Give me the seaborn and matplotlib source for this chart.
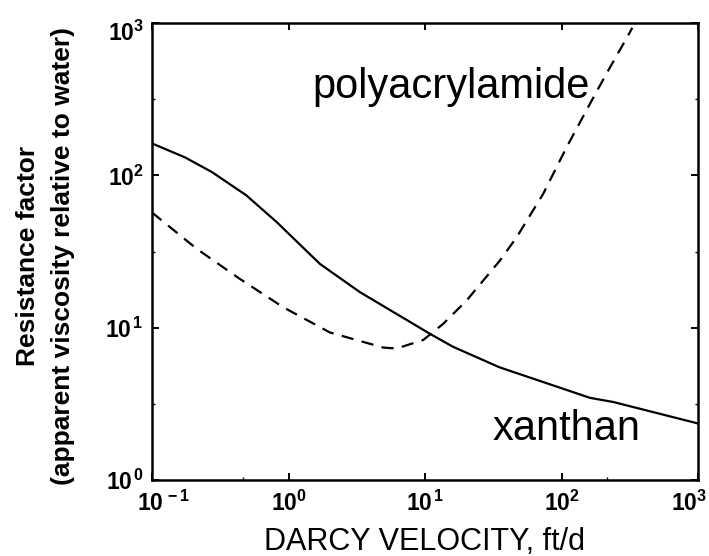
import matplotlib
matplotlib.use("Agg")
import matplotlib.pyplot as plt
import matplotlib.ticker as mticker
import matplotlib.transforms as mtransforms
import numpy as np
import pandas as pd
import seaborn as sns

# ---- data ----
xanthan_v = [0.1, 0.175, 0.275, 0.49, 0.82, 1.70, 3.34, 10.9, 16, 35, 162, 240, 1000]
xanthan_rf = [162, 131, 105, 74, 49.3, 26.2, 17.1, 9.1, 7.5, 5.5, 3.46, 3.25, 2.35]

pam_v = [0.1, 0.212, 0.44, 0.917, 2.01, 4.95, 6.2, 9.7, 13.6, 20.2, 35.4, 47, 73.6, 109, 162, 214, 309, 330]
pam_rf = [57, 33, 20.9, 13.6, 9.3, 7.4, 7.3, 8.3, 10.6, 15.1, 27.6, 39.3, 75.9, 153, 296, 467, 834, 930]

x_ticks = [0.1, 1, 10, 100, 1000]
x_ticklabels = [r'$\mathbf{10^{\,-1}}$', r'$\mathbf{10^{0}}$', r'$\mathbf{10^{\,1}}$',
                r'$\mathbf{10^{2}}$', r'$\mathbf{10^{3}}$']
y_ticks = [1, 10, 100, 1000]
y_ticklabels = [r'$\mathbf{10^{\,0}}$', r'$\mathbf{10^{\,1}}$', r'$\mathbf{10^{2}}$', r'$\mathbf{10^{3}}$']
x_minor = [10 ** (-1 / 3), 10 ** (7 / 3)]
y_minor = [10 ** 0.5, 10 ** 1.5, 10 ** 2.5]

series_labels = ["xanthan", "polyacrylamide"]

# ---- style ----
sns.set_style("white")
plt.rcParams['font.family'] = ['Liberation Sans', 'DejaVu Sans']
plt.rcParams['mathtext.fontset'] = 'custom'
plt.rcParams['mathtext.rm'] = 'Liberation Sans'
plt.rcParams['mathtext.bf'] = 'Liberation Sans:bold'
plt.rcParams['mathtext.it'] = 'Liberation Sans:italic'
for k in ['text.color', 'axes.labelcolor', 'xtick.color', 'ytick.color', 'axes.edgecolor']:
    plt.rcParams[k] = 'black'

df_x = pd.DataFrame({"v": xanthan_v, "rf": xanthan_rf})
df_p = pd.DataFrame({"v": pam_v, "rf": pam_rf})

fig = plt.figure(figsize=(7.09, 5.56), dpi=100)
ax = fig.add_axes([152 / 709, 1 - 480 / 556, 546 / 709, 457 / 556])

sns.lineplot(data=df_x, x="v", y="rf", ax=ax, color="black", lw=1.6, sort=False)
sns.lineplot(data=df_p, x="v", y="rf", ax=ax, color="black", lw=1.6, sort=False)
ax.lines[-1].set_dashes((5.5, 3.8))

ax.set_xscale("log")
ax.set_yscale("log")
ax.set_xlim(0.1, 1000)
ax.set_ylim(1, 1000)

ax.xaxis.set_major_locator(mticker.FixedLocator(x_ticks))
ax.xaxis.set_major_formatter(mticker.FixedFormatter(x_ticklabels))
ax.xaxis.set_minor_locator(mticker.FixedLocator(x_minor))
ax.xaxis.set_minor_formatter(mticker.NullFormatter())
ax.yaxis.set_major_locator(mticker.FixedLocator(y_ticks))
ax.yaxis.set_major_formatter(mticker.FixedFormatter(y_ticklabels))
ax.yaxis.set_minor_locator(mticker.FixedLocator(y_minor))
ax.yaxis.set_minor_formatter(mticker.NullFormatter())

for s in ax.spines.values():
    s.set_linewidth(1.8)
    s.set_color("black")
    s.set_visible(True)

ax.tick_params(which="major", direction="in", length=5, width=1.4, color="black",
               top=True, right=True, bottom=True, left=True, labelsize=16.5)
ax.tick_params(which="minor", direction="in", length=2.5, width=1.0, color="black",
               top=False, right=True, bottom=True, left=True)
ax.tick_params(axis="x", which="major", pad=8)
ax.tick_params(axis="y", which="major", pad=6)

# small offsets of the end tick labels, as in the reference
fig.canvas.draw()
xlabs = ax.get_xticklabels()
xlabs[0].set_transform(xlabs[0].get_transform() +
                       mtransforms.ScaledTranslation(12 / 100, 0, fig.dpi_scale_trans))
xlabs[-1].set_transform(xlabs[-1].get_transform() +
                        mtransforms.ScaledTranslation(-9 / 100, 0, fig.dpi_scale_trans))
ylabs = ax.get_yticklabels()
ylabs[-1].set_transform(ylabs[-1].get_transform() +
                        mtransforms.ScaledTranslation(0, -8 / 100, fig.dpi_scale_trans))

ax.set_xlabel("DARCY VELOCITY, ft/d", fontsize=22)
ax.xaxis.label.set_va("baseline")
ax.xaxis.set_label_coords(0.499, -0.154)

ax.set_ylabel("Resistance factor\n(apparent viscosity relative to water)",
              fontsize=19, fontweight="bold", linespacing=1.6)
ax.yaxis.set_label_coords(-0.141, 0.49)

ax.text(0.293, 0.836, series_labels[1], transform=ax.transAxes, fontsize=30,
        ha="left", va="baseline")
ax.text(0.6245, 0.0875, series_labels[0], transform=ax.transAxes, fontsize=30,
        ha="left", va="baseline")

ax.set_facecolor("white")
fig.patch.set_facecolor("white")
fig.savefig("out.png", dpi=100)
